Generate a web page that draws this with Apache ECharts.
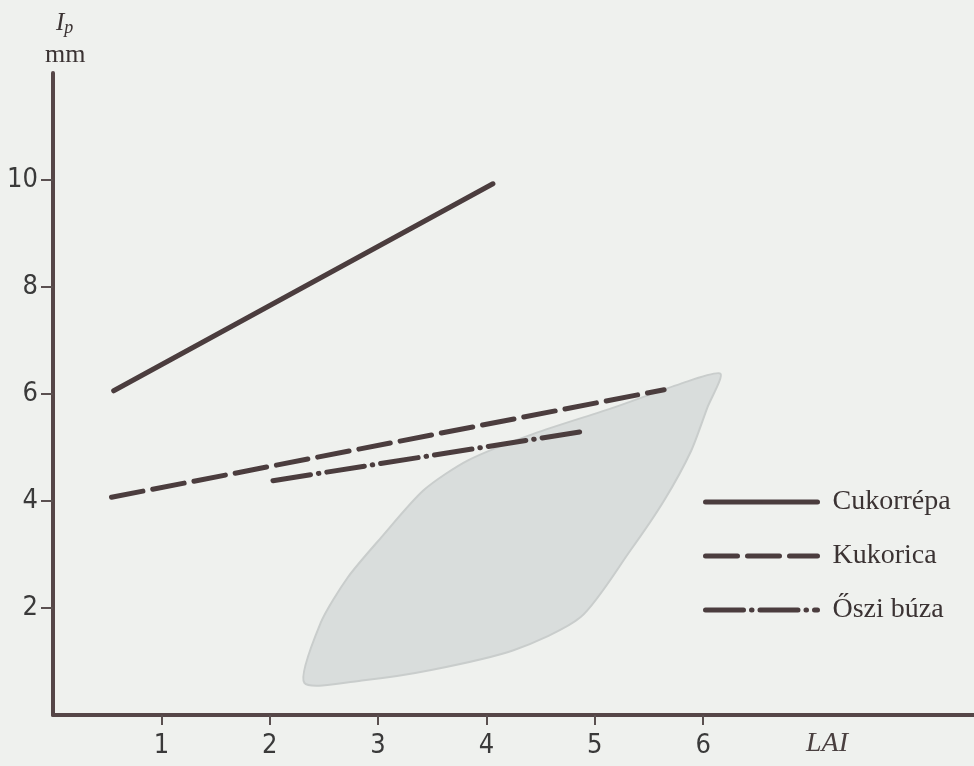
<!DOCTYPE html>
<html>
<head>
<meta charset="utf-8">
<title>Ip - LAI</title>
<script src="https://cdn.jsdelivr.net/npm/echarts@6/dist/echarts.min.js"></script>
<style>
  html, body { margin: 0; padding: 0; background: #eff1ee; }
  #chart { width: 974px; height: 766px; }
</style>
</head>
<body>
<div id="chart"></div>
<script>
// tengelyek
const xTicks = [1, 2, 3, 4, 5, 6]
const yTicks = [2, 4, 6, 8, 10]

// vonalak (LAI, Ip mm)
const cukorrepaX = [0.56, 4.06]
const cukorrepaY = [6.06, 9.93]
const kukoricaX = [0.54, 5.64]
const kukoricaY = [4.07, 6.08]
const osziBuzaX = [2.03, 4.89]
const osziBuzaY = [4.38, 5.30]

// satírozott terület körvonala
const leafX = [2.32, 2.47, 2.72, 3.03, 3.42, 3.83, 4.44, 5.18, 5.79, 6.16, 6.04, 5.89, 5.64, 5.33, 4.87, 4.25, 3.49, 2.87]
const leafY = [0.60, 1.72, 2.57, 3.32, 4.20, 4.76, 5.26, 5.75, 6.19, 6.38, 5.75, 4.94, 4.01, 3.08, 1.83, 1.21, 0.84, 0.65]

const lineColor = '#4b3d3e'
const numFont = "'DejaVu Sans Condensed', 'Liberation Sans Narrow', 'DejaVu Sans', sans-serif"
const toPairs = (xs, ys) => xs.map((x, i) => [x, ys[i]])

const chart = echarts.init(document.getElementById('chart'))

const option = {
  backgroundColor: '#eff1ee',
  animation: false,
  grid: { left: 53, right: 0, top: 73, bottom: 51 },
  xAxis: {
    type: 'value',
    min: 0,
    max: 8.5,
    splitLine: { show: false },
    axisLine: { onZero: false, lineStyle: { color: '#554647', width: 4 } },
    axisTick: { customValues: xTicks, length: 10, lineStyle: { color: '#5a5050', width: 2 } },
    axisLabel: {
      customValues: xTicks,
      margin: 17,
      color: '#3a3a3a',
      fontSize: 27,
      fontFamily: numFont,
    },
  },
  yAxis: {
    type: 'value',
    min: 0,
    max: 12,
    splitLine: { show: false },
    axisLine: { show: true, onZero: false, lineStyle: { color: '#554647', width: 4 } },
    axisTick: { show: true, customValues: yTicks, length: 12, lineStyle: { color: '#5a5050', width: 2 } },
    axisLabel: {
      customValues: yTicks,
      margin: 15,
      color: '#3a3a3a',
      fontSize: 27,
      fontFamily: numFont,
    },
  },
  legend: {
    orient: 'vertical',
    left: 698,
    top: 482,
    itemWidth: 112,
    itemHeight: 2,
    itemGap: 24,
    lineStyle: { width: 5, cap: 'round' },
    textStyle: {
      fontFamily: 'Liberation Serif',
      fontSize: 28,
      color: '#3b3333',
      lineHeight: 30,
      padding: [0, 0, 0, 10],
    },
    data: ['Cukorrépa', 'Kukorica', 'Őszi búza'],
  },
  graphic: [
    {
      type: 'text',
      left: 56,
      top: 11,
      style: {
        text: '{i|I}{s|p}',
        rich: {
          i: { fontFamily: 'Liberation Serif', fontStyle: 'italic', fontSize: 25, fill: '#3b3333' },
          s: { fontFamily: 'Liberation Serif', fontStyle: 'italic', fontSize: 18, fill: '#3b3333', padding: [10, 0, 0, 0] },
        },
      },
    },
    {
      type: 'text',
      left: 45,
      top: 42,
      style: { text: 'mm', font: '26px "Liberation Serif"', fill: '#3b3333' },
    },
    {
      type: 'text',
      left: 806,
      top: 730,
      style: { text: 'LAI', font: 'italic 28px "Liberation Serif"', fill: '#4a4040' },
    },
  ],
  series: [
    {
      type: 'custom',
      name: 'terület',
      z: 1,
      silent: true,
      data: toPairs(leafX, leafY),
      renderItem: (params, api) => {
        if (params.dataIndex !== 0) return
        const points = leafX.map((x, i) => api.coord([x, leafY[i]]))
        return {
          type: 'polygon',
          shape: { points, smooth: 0.25 },
          style: { fill: '#d9dddc', stroke: '#c9cdcc', lineWidth: 2 },
        }
      },
    },
    {
      name: 'Cukorrépa',
      type: 'line',
      z: 3,
      symbol: 'none',
      data: toPairs(cukorrepaX, cukorrepaY),
      lineStyle: { color: lineColor, width: 5, cap: 'round' },
      itemStyle: { color: lineColor },
    },
    {
      name: 'Kukorica',
      type: 'line',
      z: 3,
      symbol: 'none',
      data: toPairs(kukoricaX, kukoricaY),
      lineStyle: { color: lineColor, width: 5, type: [32, 10], cap: 'round' },
      itemStyle: { color: lineColor },
    },
    {
      name: 'Őszi búza',
      type: 'line',
      z: 3,
      symbol: 'none',
      data: toPairs(osziBuzaX, osziBuzaY),
      lineStyle: { color: lineColor, width: 5, type: [38, 8, 0.5, 8], cap: 'round' },
      itemStyle: { color: lineColor },
    },
  ],
}

chart.setOption(option)
</script>
</body>
</html>
